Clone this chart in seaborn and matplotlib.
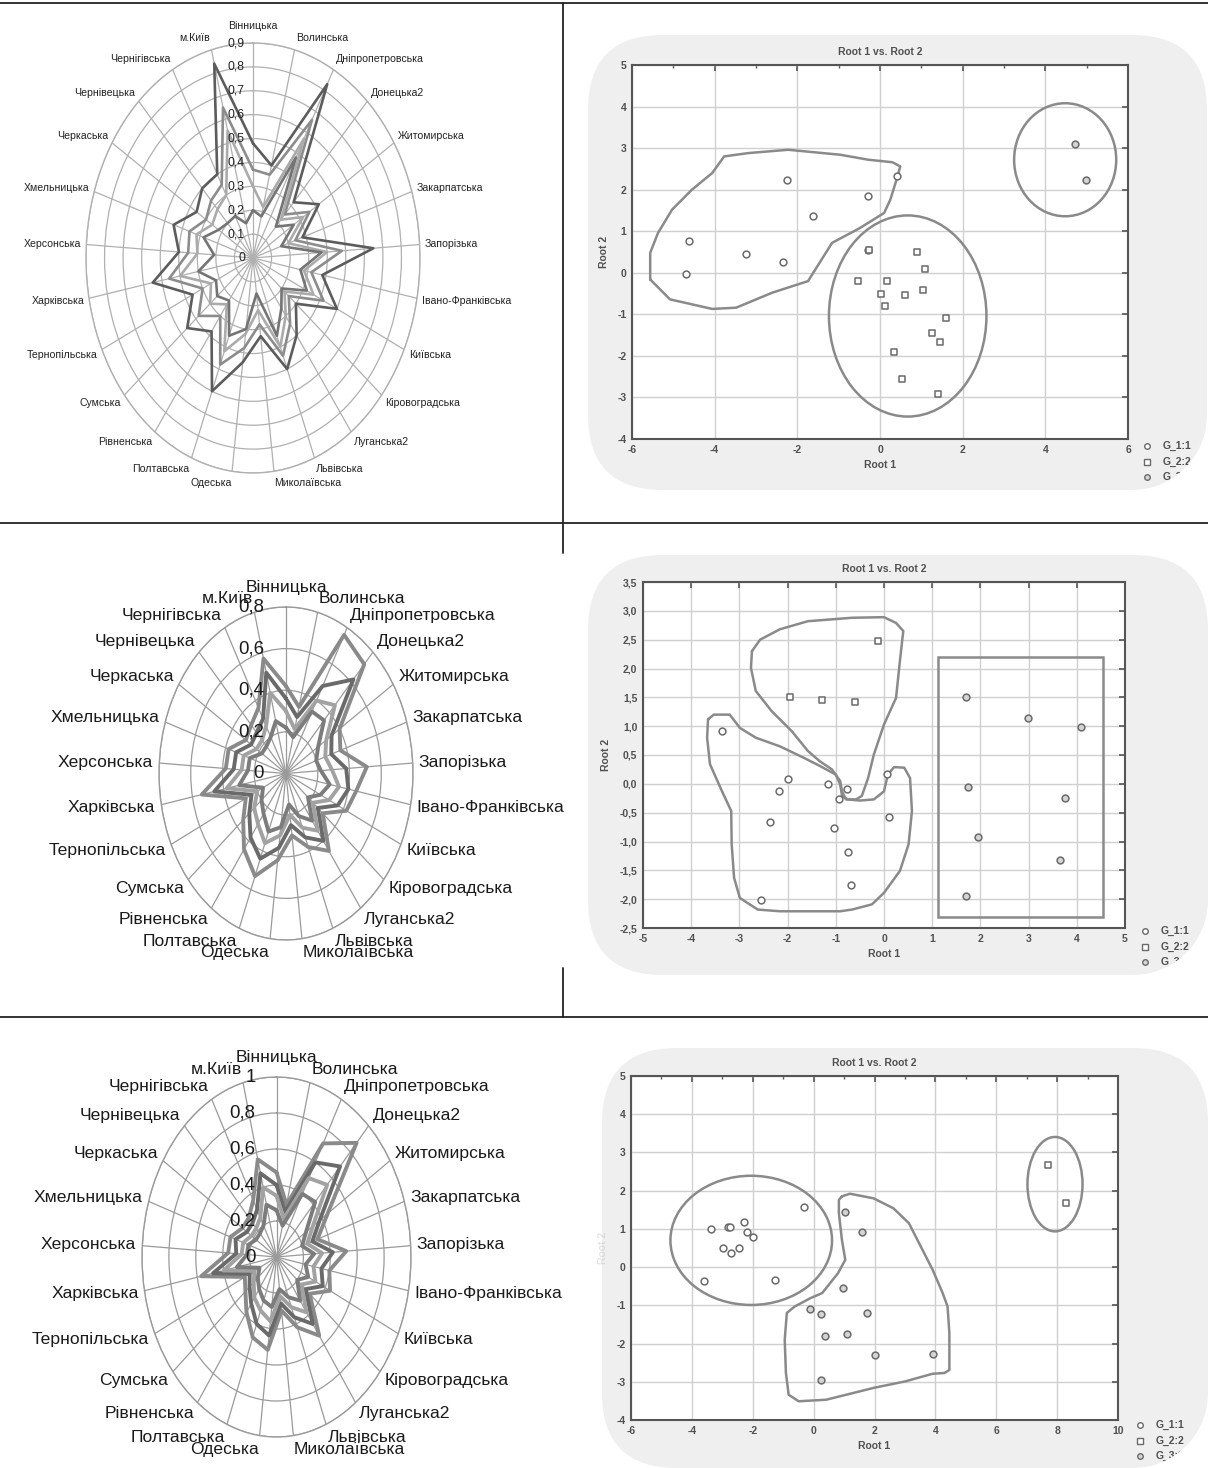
import numpy as np
import pandas as pd
import seaborn as sns
import matplotlib.pyplot as plt
from matplotlib import font_manager
from matplotlib.patches import Ellipse, Rectangle, FancyBboxPatch, Polygon
from matplotlib.ticker import MultipleLocator, FuncFormatter

W, H = 1208, 1468

# ---------------- radar data ----------------
regions = ['Вінницька', 'Волинська', 'Дніпропетровська', 'Донецька2', 'Житомирська',
           'Закарпатська', 'Запорізька', 'Івано-Франківська', 'Київська', 'Кіровоградська',
           'Луганська2', 'Львівська', 'Миколаївська', 'Одеська', 'Полтавська', 'Рівненська',
           'Сумська', 'Тернопільська', 'Харківська', 'Херсонська', 'Хмельницька', 'Черкаська',
           'Чернівецька', 'Чернігівська', 'м.Київ']

radar1_a = [0.48, 0.40, 0.83, 0.32, 0.42, 0.28, 0.65, 0.38, 0.50, 0.30, 0.40, 0.50, 0.33,
            0.44, 0.60, 0.38, 0.46, 0.36, 0.55, 0.40, 0.45, 0.36, 0.40, 0.40, 0.84]
radar1_b = [0.37, 0.36, 0.66, 0.25, 0.36, 0.24, 0.48, 0.32, 0.42, 0.25, 0.34, 0.44, 0.28,
            0.38, 0.48, 0.30, 0.38, 0.30, 0.46, 0.35, 0.36, 0.30, 0.33, 0.35, 0.65]
radar1_c = [0.30, 0.22, 0.57, 0.22, 0.32, 0.20, 0.40, 0.28, 0.36, 0.22, 0.30, 0.40, 0.22,
            0.32, 0.42, 0.24, 0.30, 0.25, 0.40, 0.30, 0.32, 0.26, 0.28, 0.30, 0.55]
radar1_d = [0.20, 0.18, 0.48, 0.18, 0.26, 0.16, 0.37, 0.26, 0.32, 0.20, 0.26, 0.35, 0.15,
            0.30, 0.35, 0.22, 0.25, 0.22, 0.30, 0.21, 0.28, 0.22, 0.20, 0.20, 0.15]

radar2_a = [0.42, 0.33, 0.76, 0.72, 0.40, 0.36, 0.51, 0.45, 0.42, 0.30, 0.46, 0.38, 0.30,
            0.42, 0.53, 0.45, 0.35, 0.28, 0.54, 0.38, 0.38, 0.30, 0.32, 0.36, 0.57]
radar2_b = [0.36, 0.28, 0.48, 0.62, 0.34, 0.30, 0.38, 0.40, 0.36, 0.26, 0.40, 0.33, 0.25,
            0.36, 0.44, 0.38, 0.30, 0.24, 0.46, 0.33, 0.33, 0.26, 0.27, 0.30, 0.50]
radar2_c = [0.30, 0.22, 0.40, 0.45, 0.30, 0.26, 0.29, 0.34, 0.30, 0.22, 0.34, 0.28, 0.20,
            0.30, 0.36, 0.30, 0.26, 0.20, 0.38, 0.28, 0.28, 0.22, 0.22, 0.26, 0.40]
radar2_d = [0.22, 0.18, 0.34, 0.35, 0.24, 0.20, 0.22, 0.28, 0.24, 0.18, 0.28, 0.22, 0.15,
            0.26, 0.30, 0.24, 0.20, 0.16, 0.30, 0.24, 0.24, 0.18, 0.18, 0.20, 0.26]

radar3_a = [0.47, 0.30, 0.72, 0.87, 0.45, 0.32, 0.52, 0.40, 0.44, 0.32, 0.54, 0.42, 0.30,
            0.52, 0.48, 0.38, 0.30, 0.26, 0.57, 0.36, 0.36, 0.30, 0.30, 0.36, 0.56]
radar3_b = [0.40, 0.26, 0.60, 0.69, 0.38, 0.28, 0.42, 0.34, 0.38, 0.28, 0.46, 0.36, 0.26,
            0.44, 0.40, 0.32, 0.26, 0.22, 0.48, 0.30, 0.32, 0.26, 0.26, 0.30, 0.48]
radar3_c = [0.34, 0.22, 0.50, 0.55, 0.32, 0.24, 0.34, 0.28, 0.32, 0.24, 0.38, 0.30, 0.22,
            0.36, 0.32, 0.28, 0.22, 0.18, 0.40, 0.26, 0.26, 0.22, 0.22, 0.25, 0.40]
radar3_d = [0.26, 0.18, 0.40, 0.42, 0.26, 0.20, 0.28, 0.22, 0.26, 0.20, 0.30, 0.24, 0.18,
            0.28, 0.26, 0.22, 0.18, 0.14, 0.30, 0.22, 0.22, 0.18, 0.18, 0.20, 0.30]

radar1_ticks = ['0', '0,1', '0,2', '0,3', '0,4', '0,5', '0,6', '0,7', '0,8', '0,9']
radar2_ticks = ['0', '0,2', '0,4', '0,6', '0,8']
radar3_ticks = ['0', '0,2', '0,4', '0,6', '0,8', '1']

# ---------------- discriminant scatter data ----------------
sc1_g1_x = [-4.62, -4.69, -3.24, -2.34, -2.25, -1.62, -0.30, 0.42, -0.30]
sc1_g1_y = [0.76, -0.04, 0.46, 0.26, 2.23, 1.36, 1.84, 2.32, 0.56]
sc1_g2_x = [-0.26, 0.90, 1.09, -0.53, 0.18, 0.03, 0.61, 1.03, 0.12, 1.59, 1.25, 1.46, 0.33, 0.54, 1.41]
sc1_g2_y = [0.54, 0.50, 0.08, -0.20, -0.20, -0.50, -0.54, -0.42, -0.79, -1.08, -1.46, -1.67, -1.90, -2.55, -2.92]
sc1_g3_x = [4.71, 4.98]
sc1_g3_y = [3.11, 2.24]

sc2_g1_x = [-3.36, -1.99, -2.18, -1.16, -0.77, -0.93, 0.07, -2.37, -1.04, 0.10, -0.75, -0.68, -2.55]
sc2_g1_y = [0.92, 0.09, -0.13, 0.00, -0.09, -0.27, 0.17, -0.66, -0.76, -0.58, -1.18, -1.76, -2.01]
sc2_g2_x = [-0.12, -1.94, -1.29, -0.61]
sc2_g2_y = [2.47, 1.51, 1.45, 1.42]
sc2_g3_x = [1.70, 2.99, 4.09, 1.74, 3.76, 1.95, 3.65, 1.70]
sc2_g3_y = [1.51, 1.14, 0.99, -0.06, -0.24, -0.92, -1.32, -1.95]

sc3_g1_x = [-3.38, -2.82, -2.75, -2.28, -2.20, -1.98, -2.98, -2.72, -2.44, -3.60, -1.27, -0.32]
sc3_g1_y = [1.00, 1.06, 1.06, 1.19, 0.93, 0.80, 0.51, 0.37, 0.51, -0.37, -0.35, 1.56]
sc3_g2_x = [7.71, 8.29]
sc3_g2_y = [2.68, 1.67]
sc3_g3_x = [1.04, 1.58, 0.96, -0.13, 0.23, 1.75, 0.39, 1.09, 2.01, 3.91, 0.23]
sc3_g3_y = [1.43, 0.91, -0.55, -1.10, -1.22, -1.20, -1.81, -1.74, -2.31, -2.27, -2.96]

# hand-drawn group outlines (root1, root2)
sc1_outline_x = [-5.56, -5.08, -4.06, -3.48, -2.61, -1.74, -1.16, -0.48, 0.10, 0.25, 0.40, 0.49,
                 0.30, -0.28, -0.96, -2.22, -3.19, -3.77, -4.06, -4.55, -5.03, -5.37, -5.56]
sc1_outline_y = [-0.16, -0.64, -0.87, -0.84, -0.48, -0.20, 0.72, 1.08, 1.44, 1.76, 2.24, 2.56,
                 2.66, 2.72, 2.84, 2.96, 2.88, 2.80, 2.40, 2.00, 1.52, 0.96, 0.48]
sc2_upper_x = [-2.74, -2.57, -2.16, -1.58, -0.66, 0.00, 0.25, 0.40, 0.33, 0.25, 0.00, -0.21, -0.33,
               -0.46, -0.58, -0.79, -0.87, -0.91, -1.08, -1.33, -1.58, -1.91, -2.33, -2.66, -2.76]
sc2_upper_y = [2.30, 2.50, 2.68, 2.82, 2.88, 2.89, 2.79, 2.65, 2.13, 1.49, 1.03, 0.51, 0.10,
               -0.21, -0.27, -0.27, -0.13, 0.05, 0.25, 0.39, 0.57, 0.91, 1.26, 1.61, 2.01]
sc2_lower_x = [-3.65, -3.53, -3.20, -2.99, -2.66, -2.16, -1.66, -1.33, -1.00, -0.91, -0.87, -0.75,
               -0.50, -0.21, 0.00, 0.08, 0.21, 0.42, 0.54, 0.58, 0.51, 0.33, 0.00, -0.25, -0.66,
               -0.91, -2.16, -2.62, -2.99, -3.11, -3.16, -3.17, -3.36, -3.61, -3.67]
sc2_lower_y = [1.12, 1.20, 1.20, 0.97, 0.80, 0.65, 0.45, 0.31, 0.16, -0.01, -0.21, -0.27,
               -0.29, -0.27, -0.13, 0.16, 0.29, 0.28, 0.10, -0.47, -1.05, -1.51, -1.89, -2.09, -2.18,
               -2.21, -2.21, -2.18, -1.98, -1.63, -1.05, -0.47, -0.13, 0.34, 0.80]
sc3_outline_x = [0.93, 1.19, 1.97, 2.62, 3.13, 3.52, 3.91, 4.24, 4.40, 4.46, 4.46, 4.30, 3.91, 3.01,
                 1.97, 0.41, -0.49, -0.82, -0.91, -0.95, -0.88, -0.62, -0.10, 0.28, 0.54, 0.80,
                 1.04, 0.93, 0.83, 0.83]
sc3_outline_y = [1.85, 1.92, 1.80, 1.54, 1.15, 0.54, -0.07, -0.68, -1.03, -1.73, -2.69, -2.77, -2.79,
                 -2.99, -3.16, -3.47, -3.51, -3.34, -2.77, -1.90, -1.20, -1.03, -0.81, -0.68, -0.42,
                 -0.16, 0.19, 0.71, 1.41, 1.76]

legend_labels = ['G_1:1', 'G_2:2', 'G_3:3']

# ---------------- style ----------------
sns.set_theme(style='white')
names = {f.name for f in font_manager.fontManager.ttflist}
NARROW = 'Liberation Sans Narrow' if 'Liberation Sans Narrow' in names else 'Liberation Sans'
fscale = 1.0 if NARROW == 'Liberation Sans Narrow' else 0.84
plt.rcParams['font.family'] = ['Liberation Sans', 'DejaVu Sans']
plt.rcParams['axes.unicode_minus'] = False

fig = plt.figure(figsize=(W / 100, H / 100), dpi=100)


def px_rect(x0, y0, x1, y1):
    return [x0 / W, 1 - y1 / H, (x1 - x0) / W, (y1 - y0) / H]


# background layer (separators, statistica panels, legends) in pixel units
bg = fig.add_axes([0, 0, 1, 1], zorder=-5)
bg.set_xlim(0, W)
bg.set_ylim(H, 0)
bg.axis('off')
for y in [3, 523, 1017]:
    bg.plot([0, W], [y, y], color='#222222', lw=1.3, zorder=6)
bg.plot([563, 563], [3, 553], color='#222222', lw=1.3, zorder=6)
bg.plot([563, 563], [968, 1017], color='#222222', lw=1.3, zorder=6)


def radar(rect, series, colors, rmax, rstep, ticks, lw, cat_fs, tick_fs, pad_x, pad_y, tick_dx,
          grid_c, txt_c):
    ax = fig.add_axes(px_rect(*rect), projection='polar')
    ax.set_aspect('auto')
    ax.set_theta_zero_location('N')
    ax.set_theta_direction(-1)
    ax.set_facecolor('none')
    n = len(regions)
    theta = np.arange(n) * 2 * np.pi / n
    th = np.append(theta, 2 * np.pi)
    for vals, c in zip(series, colors):
        sns.lineplot(x=th, y=np.append(vals, vals[0]), sort=False, estimator=None,
                     color=c, linewidth=lw, ax=ax)
    ax.set_ylim(0, rmax)
    ax.set_yticks(np.arange(rstep, rmax + 1e-9, rstep))
    ax.set_yticklabels([])
    ax.set_xticks(theta)
    ax.set_xticklabels([])
    ax.set_xlabel('')
    ax.set_ylabel('')
    ax.grid(True, color=grid_c, lw=0.9)
    ax.spines['polar'].set_color(grid_c)
    ax.spines['polar'].set_linewidth(1.0)
    for t, lab in zip(theta, regions):
        s, c = np.sin(t), np.cos(t)
        ha = 'left' if s > 0.01 else ('right' if s < -0.01 else 'center')
        dy = pad_y * c
        if abs(s) < 0.01:
            dy = pad_y * 1.4 * c
        ax.annotate(lab, xy=(t, rmax), xytext=(pad_x * s, dy), textcoords='offset pixels',
                    ha=ha, va='center', fontsize=cat_fs * fscale, color=txt_c,
                    family=[NARROW, 'DejaVu Sans'], annotation_clip=False)
    for i, lab in enumerate(ticks):
        ax.annotate(lab, xy=(0, i * rstep), xytext=(-tick_dx, 0), textcoords='offset pixels',
                    ha='right', va='center', fontsize=tick_fs * fscale, color=txt_c,
                    family=[NARROW, 'DejaVu Sans'], annotation_clip=False)
    return ax


radar((86, 43, 420, 473), [radar1_a, radar1_b, radar1_c, radar1_d],
      ['#5c5c5c', '#8c8c8c', '#ababab', '#747474'], 0.9, 0.1, radar1_ticks,
      1.9, 9.0, 10.5, 5, 12, 8, '#b0b0b0', '#222222')
radar((159, 607, 413, 940), [radar2_a, radar2_b, radar2_c, radar2_d],
      ['#8a8a8a', '#6a6a6a', '#a2a2a2', '#7c7c7c'], 0.8, 0.2, radar2_ticks,
      2.8, 15, 16, 6, 14, 22, '#9a9a9a', '#1a1a1a')
radar((142, 1077, 411, 1437), [radar3_a, radar3_b, radar3_c, radar3_d],
      ['#8a8a8a', '#6a6a6a', '#a2a2a2', '#7c7c7c'], 1.0, 0.2, radar3_ticks,
      2.8, 15, 16, 6, 14, 21, '#9a9a9a', '#1a1a1a')

# ---------------- scatter panels ----------------
TXT = '#505050'
MARKERS = ['o', 's', 'o']
FACES = ['white', 'white', '#d4d4d4']
RND = 75


def panel(box, rect, groups, xlim, ylim, xmaj, xmin, ymaj, yfmt, legend_xy, ylabel_alpha=1.0):
    x0, y0, x1, y1 = box
    bg.add_patch(FancyBboxPatch((x0, y0), x1 - x0, y1 - y0,
                                boxstyle=f'round,pad=0,rounding_size={RND}',
                                fc='#efefef', ec='none', zorder=1))
    ax = fig.add_axes(px_rect(*rect))
    ax.set_facecolor('white')
    for (gx, gy), m, fcol in zip(groups, MARKERS, FACES):
        sns.scatterplot(x=gx, y=gy, marker=m, s=24, color=fcol, edgecolor='#6a6a6a',
                        linewidth=1.1, ax=ax, zorder=4, legend=False)
    ax.set_xlim(*xlim)
    ax.set_ylim(*ylim)
    ax.xaxis.set_major_locator(MultipleLocator(xmaj))
    ax.xaxis.set_minor_locator(MultipleLocator(xmin))
    ax.yaxis.set_major_locator(MultipleLocator(ymaj))
    ax.xaxis.set_major_formatter(FuncFormatter(lambda v, _: f'{v:g}'))
    ax.yaxis.set_major_formatter(FuncFormatter(yfmt))
    ax.grid(True, which='major', color='#d0d0d0', lw=1.0)
    for sp in ax.spines.values():
        sp.set_color('#555555')
        sp.set_linewidth(1.5)
    ax.tick_params(which='both', direction='in', top=True, right=True, color='#555555',
                   labelsize=7.5, labelcolor=TXT, pad=4)
    ax.tick_params(which='major', length=4, width=1.2)
    ax.tick_params(which='minor', length=2.5, width=1.0)
    for lab in ax.get_xticklabels() + ax.get_yticklabels():
        lab.set_fontweight('bold')
    ax.set_title('Root 1 vs. Root 2', fontsize=7.5, fontweight='bold', color=TXT, pad=7)
    ax.set_xlabel('Root 1', fontsize=7.5, fontweight='bold', color=TXT, labelpad=4)
    ax.set_ylabel('Root 2', fontsize=7.5, fontweight='bold', color=TXT, labelpad=6,
                  alpha=ylabel_alpha)
    # statistica style legend, cut by the rounded panel corner
    lx, ly = legend_xy
    for i, (lab, m, fcol) in enumerate(zip(legend_labels, MARKERS, FACES)):
        yy = ly + i * 15.5
        bg.plot([lx], [yy], marker=m, ms=4, mfc=fcol, mec='#6a6a6a', mew=1.0, ls='none', zorder=3)
        bg.text(lx + 16, yy, lab, fontsize=7.5, fontweight='bold', color=TXT,
                va='center', ha='left', zorder=3)
    # white mask outside the rounded bottom-right corner only
    cx, cy = x1 - RND, y1 - RND
    a = np.linspace(0, np.pi / 2, 30)
    arc = np.column_stack([cx + RND * np.cos(a), cy + RND * np.sin(a)])
    corner = np.vstack([[W, cy], arc, [cx, y1], [W, y1]])
    bg.add_patch(Polygon(corner, closed=True, fc='white', ec='none', zorder=5))
    return ax


int_fmt = lambda v, _: f'{v:g}'
comma_fmt = lambda v, _: f'{v:.1f}'.replace('.', ',')

ax1 = panel((588, 35, 1207, 490), (632, 65, 1128, 439),
            [(sc1_g1_x, sc1_g1_y), (sc1_g2_x, sc1_g2_y), (sc1_g3_x, sc1_g3_y)],
            (-6, 6), (-4, 5), 2, 1, 1, int_fmt, (1147, 446))
OUT = dict(color='#8a8a8a', lw=1.8, zorder=3)
ax1.plot(sc1_outline_x + sc1_outline_x[:1], sc1_outline_y + sc1_outline_y[:1], **OUT)
ax1.add_patch(Ellipse((0.67, -1.04), 3.81, 4.84, fc='none', ec=OUT['color'], lw=1.8, zorder=3))
ax1.add_patch(Ellipse((4.48, 2.72), 2.47, 2.72, fc='none', ec=OUT['color'], lw=1.8, zorder=3))

ax2 = panel((588, 555, 1208, 975), (643, 582, 1125, 928),
            [(sc2_g1_x, sc2_g1_y), (sc2_g2_x, sc2_g2_y), (sc2_g3_x, sc2_g3_y)],
            (-5, 5), (-2.5, 3.5), 1, 1, 0.5, comma_fmt, (1145, 931))
ax2.plot(sc2_upper_x + sc2_upper_x[:1], sc2_upper_y + sc2_upper_y[:1], **OUT)
ax2.plot(sc2_lower_x + sc2_lower_x[:1], sc2_lower_y + sc2_lower_y[:1], **OUT)
ax2.add_patch(Rectangle((1.12, -2.31), 3.42, 4.51, fc='none', ec=OUT['color'], lw=1.8, zorder=3))

ax3 = panel((602, 1048, 1208, 1468), (631, 1076, 1118, 1420),
            [(sc3_g1_x, sc3_g1_y), (sc3_g2_x, sc3_g2_y), (sc3_g3_x, sc3_g3_y)],
            (-6, 10), (-4, 5), 2, 1, 1, int_fmt, (1140, 1425), ylabel_alpha=0.15)
ax3.plot(sc3_outline_x + sc3_outline_x[:1], sc3_outline_y + sc3_outline_y[:1], **OUT)
ax3.add_patch(Ellipse((-2.05, 0.70), 5.31, 3.38, fc='none', ec=OUT['color'], lw=1.8, zorder=3))
ax3.add_patch(Ellipse((7.93, 2.17), 1.81, 2.47, fc='none', ec=OUT['color'], lw=1.8, zorder=3))

fig.savefig('out.png', dpi=100)
